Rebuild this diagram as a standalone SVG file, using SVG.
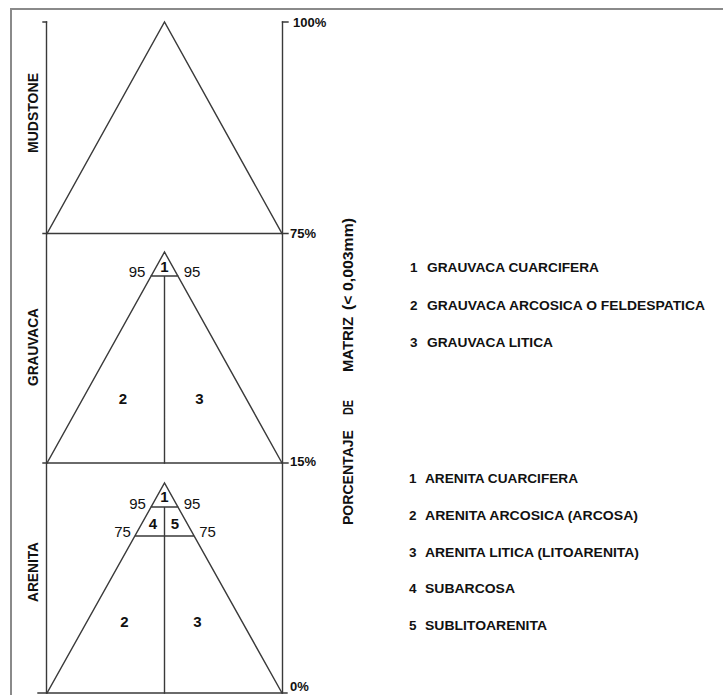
<svg xmlns="http://www.w3.org/2000/svg" width="723" height="695" viewBox="0 0 723 695">
<style>
.ln{stroke:#3a3a3a;stroke-width:1.4;fill:none;stroke-linecap:square}
.t{font-family:"Liberation Sans",Arial,sans-serif;fill:#111}
.b{font-weight:bold}
.lab{font-size:15px;text-anchor:middle}
.pct{font-size:13px;font-weight:bold}
.leg{font-size:13.5px;font-weight:bold}
.rot{font-size:15px;font-weight:bold}
</style>
<rect x="0" y="0" width="723" height="695" fill="#fff"/>
<path d="M11,700 V9 H730" fill="none" stroke="#8a8a8a" stroke-width="2"/>
<g id="frame">
<path class="ln" d="M46.5,22 V693 M282.5,22 V693"/>
<path class="ln" d="M43,22 H46.5 M282.5,22 H288"/>
<path class="ln" d="M43,233.5 H288 M43,463 H288 M38,693 H287"/>
<text class="t pct" x="293" y="27">100%</text>
<text class="t pct" x="290" y="238">75%</text>
<text class="t pct" x="290" y="466">15%</text>
<text class="t pct" x="290" y="691">0%</text>
</g>
<g id="mudstone">
<path class="ln" d="M47,233.5 L164.5,22 L282,233.5"/>
<text class="t rot" transform="translate(38,153) rotate(-90)" textLength="80" lengthAdjust="spacingAndGlyphs">MUDSTONE</text>
</g>
<g id="grauvaca">
<path class="ln" d="M47,463 L164.5,252 L282,463 M151,276 H178 M164.5,276 V463"/>
<text class="t rot" transform="translate(38,386) rotate(-90)" textLength="78" lengthAdjust="spacingAndGlyphs">GRAUVACA</text>
<text class="t lab b" x="164.5" y="272">1</text>
<text class="t lab" x="137" y="277">95</text>
<text class="t lab" x="192" y="277">95</text>
<text class="t lab b" x="123" y="404">2</text>
<text class="t lab b" x="199.5" y="404">3</text>
</g>
<g id="arenita">
<path class="ln" d="M47,693 L164.5,483 L282,693 M151,507 H178 M135,536 H194 M164.5,507 V693"/>
<text class="t rot" transform="translate(38,602) rotate(-90)" textLength="60" lengthAdjust="spacingAndGlyphs">ARENITA</text>
<text class="t lab b" x="164.5" y="502">1</text>
<text class="t lab" x="137.5" y="509">95</text>
<text class="t lab" x="192" y="509">95</text>
<text class="t lab b" x="153" y="529">4</text>
<text class="t lab b" x="175" y="529">5</text>
<text class="t lab" x="122.5" y="537">75</text>
<text class="t lab" x="207.5" y="537">75</text>
<text class="t lab b" x="124.5" y="627">2</text>
<text class="t lab b" x="197.5" y="627">3</text>
</g>
<g id="axis-title">
<text class="t rot" transform="translate(353,525) rotate(-90)" textLength="95" lengthAdjust="spacingAndGlyphs">PORCENTAJE</text>
<text class="t rot" transform="translate(353,415) rotate(-90)" textLength="15" lengthAdjust="spacingAndGlyphs">DE</text>
<text class="t rot" transform="translate(353,372) rotate(-90)" textLength="55" lengthAdjust="spacingAndGlyphs">MATRIZ</text>
<text class="t rot" transform="translate(353,310) rotate(-90)" textLength="92" lengthAdjust="spacingAndGlyphs">(&lt; 0,003mm)</text>
</g>
<g id="legend-grauvaca">
<text class="t leg" x="410" y="272">1</text><text class="t leg" x="427" y="272" textLength="172" lengthAdjust="spacingAndGlyphs">GRAUVACA CUARCIFERA</text>
<text class="t leg" x="410" y="309.5">2</text><text class="t leg" x="427" y="309.5" textLength="278" lengthAdjust="spacingAndGlyphs">GRAUVACA ARCOSICA O FELDESPATICA</text>
<text class="t leg" x="410" y="347">3</text><text class="t leg" x="427" y="347" textLength="126" lengthAdjust="spacingAndGlyphs">GRAUVACA LITICA</text>
</g>
<g id="legend-arenita">
<text class="t leg" x="409" y="483">1</text><text class="t leg" x="425" y="483" textLength="153" lengthAdjust="spacingAndGlyphs">ARENITA CUARCIFERA</text>
<text class="t leg" x="409" y="520">2</text><text class="t leg" x="425" y="520" textLength="213" lengthAdjust="spacingAndGlyphs">ARENITA ARCOSICA (ARCOSA)</text>
<text class="t leg" x="409" y="556.5">3</text><text class="t leg" x="425" y="556.5" textLength="214" lengthAdjust="spacingAndGlyphs">ARENITA LITICA (LITOARENITA)</text>
<text class="t leg" x="409" y="593">4</text><text class="t leg" x="425" y="593" textLength="90" lengthAdjust="spacingAndGlyphs">SUBARCOSA</text>
<text class="t leg" x="409" y="630">5</text><text class="t leg" x="425" y="630" textLength="122" lengthAdjust="spacingAndGlyphs">SUBLITOARENITA</text>
</g>
</svg>
